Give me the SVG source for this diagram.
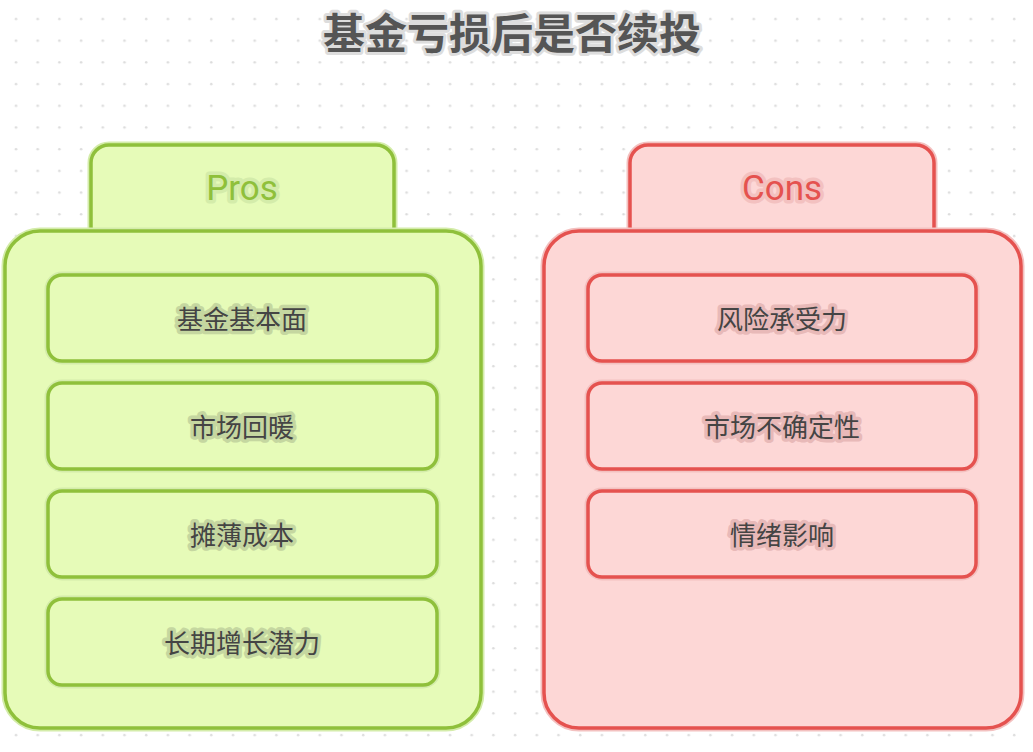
<svg xmlns="http://www.w3.org/2000/svg" width="1033" height="752" viewBox="0 0 1033 752">
<defs>
<pattern id="dots" x="0" y="0" width="21.7" height="21.7" patternUnits="userSpaceOnUse"><circle cx="16" cy="19" r="1.3" fill="#dcdcdc"/></pattern>
</defs>
<style>
.t{font-family:"Noto Sans CJK SC",sans-serif;font-size:26px;fill:#444;text-anchor:middle;dominant-baseline:central;paint-order:stroke;stroke-width:7px;stroke-linejoin:round}
.pb{fill:#e6fbb8;stroke:#8fc03b;stroke-width:3.5}
.ph{fill:none;stroke:#d4ecaa;stroke-width:7}
.cb{fill:#fdd7d6;stroke:#e5524f;stroke-width:3.5}
.ch{fill:none;stroke:#f3c1c0;stroke-width:7}
.pt{stroke:#c5d7a0}
.ct{stroke:#e8b9b8}
.hd{font-family:Roboto,"Liberation Sans",sans-serif;font-size:35px;text-anchor:middle;dominant-baseline:central;paint-order:stroke;stroke-width:7px;stroke-linejoin:round}
</style>
<rect width="1033" height="752" fill="#fff"/>
<rect width="1033" height="752" fill="url(#dots)"/>
<text x="512" y="30" font-family="Noto Sans CJK SC,sans-serif" font-size="42" font-weight="bold" fill="#555" text-anchor="middle" dominant-baseline="central" stroke="#ddd" stroke-width="6" paint-order="stroke" stroke-linejoin="round">基金亏损后是否续投</text>
<g id="pros">
<rect x="91" y="145" width="303" height="100" rx="18" class="ph"/>
<rect x="91" y="145" width="303" height="100" rx="18" class="pb"/>
<text x="242" y="188" class="hd" fill="#8fc03b" stroke="#d4ecaa">Pros</text>
<rect x="5" y="231" width="476" height="497" rx="35" class="ph"/>
<rect x="5" y="231" width="476" height="497" rx="35" class="pb"/>
</g>
<g id="cons">
<rect x="630" y="145" width="304" height="100" rx="18" class="ch"/>
<rect x="630" y="145" width="304" height="100" rx="18" class="cb"/>
<text x="782" y="188" class="hd" fill="#e5524f" stroke="#f3c1c0">Cons</text>
<rect x="544" y="231" width="477" height="497" rx="35" class="ch"/>
<rect x="544" y="231" width="477" height="497" rx="35" class="cb"/>
</g>
<g id="p1"><rect x="48" y="275" width="389" height="86" rx="14" class="ph"/><rect x="48" y="275" width="389" height="86" rx="14" class="pb"/><text x="242" y="317" class="t pt">基金基本面</text></g>
<g id="p2"><rect x="48" y="383" width="389" height="86" rx="14" class="ph"/><rect x="48" y="383" width="389" height="86" rx="14" class="pb"/><text x="242" y="425" class="t pt">市场回暖</text></g>
<g id="p3"><rect x="48" y="491" width="389" height="86" rx="14" class="ph"/><rect x="48" y="491" width="389" height="86" rx="14" class="pb"/><text x="242" y="533" class="t pt">摊薄成本</text></g>
<g id="p4"><rect x="48" y="599" width="389" height="86" rx="14" class="ph"/><rect x="48" y="599" width="389" height="86" rx="14" class="pb"/><text x="242" y="641" class="t pt">长期增长潜力</text></g>
<g id="c1"><rect x="588" y="275" width="388" height="86" rx="14" class="ch"/><rect x="588" y="275" width="388" height="86" rx="14" class="cb"/><text x="782" y="317" class="t ct">风险承受力</text></g>
<g id="c2"><rect x="588" y="383" width="388" height="86" rx="14" class="ch"/><rect x="588" y="383" width="388" height="86" rx="14" class="cb"/><text x="782" y="425" class="t ct">市场不确定性</text></g>
<g id="c3"><rect x="588" y="491" width="388" height="86" rx="14" class="ch"/><rect x="588" y="491" width="388" height="86" rx="14" class="cb"/><text x="782" y="533" class="t ct">情绪影响</text></g>
<g id="connectors"></g>
</svg>
